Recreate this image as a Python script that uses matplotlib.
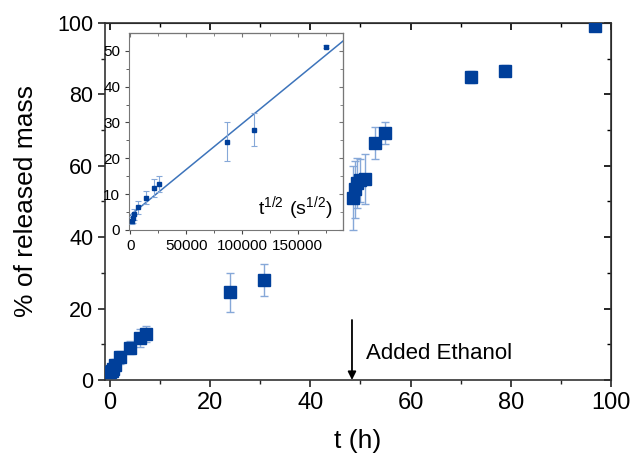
import matplotlib.pyplot as plt
import numpy as np

plt.rcParams['font.family'] = ['Liberation Sans', 'DejaVu Sans']

# release data (time in hours, % released mass, error)
t_h = [0.0, 0.4, 0.64, 0.9, 1.9, 3.9, 5.9, 7.1, 24.0, 30.7,
       48.6, 48.9, 49.4, 49.9, 50.9, 52.9, 54.9, 72.0, 78.9, 96.9]
released = [2.2, 2.5, 3.2, 4.3, 6.3, 9.0, 11.7, 12.9, 24.5, 28.0,
            51.0, 53.4, 55.2, 55.9, 56.4, 66.3, 69.1, 84.8, 86.6, 99.2]
err = [1.0, 1.2, 1.5, 1.5, 1.8, 1.8, 2.5, 2.2, 5.5, 4.6,
       9.0, 8.0, 7.0, 6.0, 7.0, 4.4, 3.0, 1.7, 1.5, 0.8]

# inset: points before ethanol, time in seconds
inset_t_s = [1450, 2300, 3200, 6800, 14000, 21200, 25700, 86300, 110600, 175000]
inset_y = [2.5, 3.2, 4.3, 6.3, 9.0, 11.7, 12.9, 24.6, 28.0, 51.2]
inset_err = [1.0, 1.2, 1.5, 1.8, 1.8, 2.5, 2.2, 5.5, 4.5, 0.5]
fit_intercept = 4.1
fit_slope = 2.55e-4

dark_blue = '#003f9a'
light_blue = '#86a8d8'

fig = plt.figure(figsize=(6.37, 4.57), dpi=100)
ax = fig.add_axes([0.165, 0.1685, 0.794, 0.7815])

ax.errorbar(t_h, released, yerr=err, fmt='s', color=dark_blue, ms=8,
            ecolor=light_blue, elinewidth=1, capsize=3, capthick=1, zorder=3)
ax.set_xlim(-1, 100)
ax.set_ylim(0, 100)
ax.set_xticks(np.arange(0, 101, 20))
ax.set_xticks(np.arange(10, 100, 20), minor=True)
ax.set_yticks(np.arange(0, 101, 20))
ax.set_yticks(np.arange(10, 100, 20), minor=True)
ax.tick_params(direction='out', length=5, width=1.2, colors='#222222')
ax.tick_params(which='minor', direction='out', length=3, width=1, colors='#222222')
ax.tick_params(axis='both', labelcolor='black')
ax.tick_params(axis='x', labelsize=17)
ax.tick_params(axis='y', labelsize=15.5)
for s in ax.spines.values():
    s.set_linewidth(1.2)
    s.set_color('#333333')

# inward ticks on the top and right
top = ax.secondary_xaxis('top')
top.set_xticks(np.arange(0, 101, 20))
top.set_xticks(np.arange(10, 100, 20), minor=True)
top.tick_params(direction='in', labeltop=False, length=5, width=1.2)
top.tick_params(which='minor', direction='in', length=3, width=1)
right = ax.secondary_yaxis('right')
right.set_yticks(np.arange(0, 101, 20))
right.set_yticks(np.arange(10, 100, 20), minor=True)
right.tick_params(direction='in', labelright=False, length=5, width=1.2)
right.tick_params(which='minor', direction='in', length=3, width=1)

ax.set_xlabel('t (h)', fontsize=19, labelpad=11)
ax.set_ylabel('% of released mass', fontsize=19, labelpad=14)

ax.annotate('', xy=(48.3, 0), xytext=(48.3, 16.8),
            arrowprops=dict(arrowstyle='-|>', color='black', lw=1.3,
                            mutation_scale=12, shrinkA=0, shrinkB=0))
ax.text(51, 7.5, 'Added Ethanol', fontsize=16, va='center')

# inset
axi = fig.add_axes([0.203, 0.497, 0.336, 0.431])
axi.errorbar(inset_t_s, inset_y, yerr=inset_err, fmt='s', color=dark_blue, ms=3,
             ecolor=light_blue, elinewidth=0.8, capsize=2, capthick=0.8, zorder=3)
xfit = np.array([-1000, 191000])
axi.plot(xfit, fit_intercept + fit_slope * xfit, color='#3d74bb', lw=1.1, zorder=2)
axi.set_xlim(-1000, 191000)
axi.set_ylim(0, 55)
axi.set_xticks([0, 50000, 100000, 150000])
axi.set_xticks([25000, 75000, 125000, 175000], minor=True)
axi.set_yticks(np.arange(0, 51, 10))
axi.set_yticks(np.arange(5, 55, 10), minor=True)
axi.tick_params(direction='out', labelsize=11, length=3, width=0.8, colors='#444444')
axi.tick_params(which='minor', direction='out', length=2, width=0.6, colors='#444444')
axi.tick_params(axis='both', labelcolor='black')
for s in axi.spines.values():
    s.set_linewidth(0.8)
    s.set_color('#777777')
itop = axi.secondary_xaxis('top')
itop.set_xticks([0, 50000, 100000, 150000])
itop.set_xticks([25000, 75000, 125000, 175000], minor=True)
itop.tick_params(direction='in', labeltop=False, length=3, width=0.8, colors='#777777')
itop.tick_params(which='minor', direction='in', length=2, width=0.6, colors='#777777')
iright = axi.secondary_yaxis('right')
iright.set_yticks(np.arange(0, 51, 10))
iright.set_yticks(np.arange(5, 55, 10), minor=True)
iright.tick_params(direction='in', labelright=False, length=3, width=0.8, colors='#777777')
iright.tick_params(which='minor', direction='in', length=2, width=0.6, colors='#777777')
axi.text(0.6, 0.08, r'$\mathregular{t^{1/2}\ (s^{1/2})}$', transform=axi.transAxes,
         fontsize=14)

fig.savefig('out.png', dpi=100)
